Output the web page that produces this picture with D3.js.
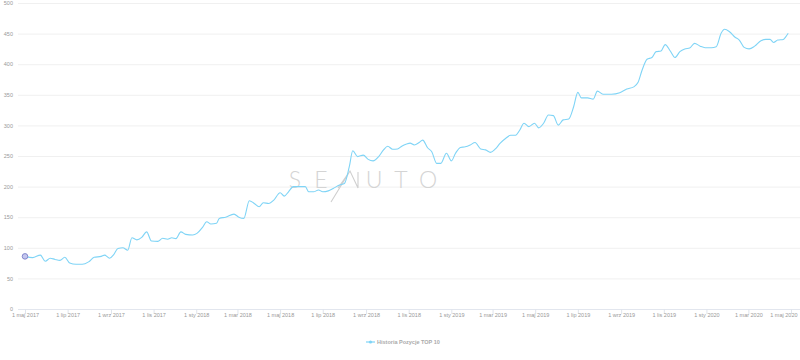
<!DOCTYPE html>
<html>
<head>
<meta charset="utf-8">
<script src="https://cdn.jsdelivr.net/npm/d3@7"></script>
<style>
  body { margin: 0; background: #fff; }
  svg { display: block; font-family: "Liberation Sans", Arial, sans-serif; }
</style>
</head>
<body>
<div id="chart"></div>
<script>
// Historia Pozycje TOP 10 - weekly snapshots
const dates = [
  "2017-05-01","2017-05-12","2017-05-23","2017-05-30","2017-06-06","2017-06-13","2017-06-20","2017-06-27",
  "2017-07-04","2017-07-13","2017-07-22","2017-07-31","2017-08-08","2017-08-18","2017-08-23","2017-08-30",
  "2017-09-05","2017-09-11","2017-09-18","2017-09-25","2017-10-01","2017-10-08","2017-10-15","2017-10-22",
  "2017-10-29","2017-11-07","2017-11-14","2017-11-21","2017-11-27","2017-12-03","2017-12-10","2017-12-17",
  "2017-12-27","2018-01-02","2018-01-10","2018-01-16","2018-01-22","2018-01-30","2018-02-03","2018-02-12",
  "2018-02-24","2018-03-03","2018-03-10","2018-03-18","2018-03-25","2018-04-01","2018-04-07","2018-04-15",
  "2018-04-22","2018-05-01","2018-05-07","2018-05-13","2018-05-20","2018-05-27","2018-06-06","2018-06-11",
  "2018-06-18","2018-06-25","2018-07-01","2018-07-09","2018-07-16","2018-07-25","2018-08-01","2018-08-08",
  "2018-08-13","2018-08-20","2018-08-28","2018-09-04","2018-09-11","2018-09-19","2018-09-26","2018-10-02",
  "2018-10-09","2018-10-16","2018-10-22","2018-10-29","2018-11-03","2018-11-09","2018-11-16","2018-11-21",
  "2018-11-28","2018-12-04","2018-12-11","2018-12-17","2018-12-25","2019-01-01","2019-01-07","2019-01-14",
  "2019-01-21","2019-01-28","2019-02-04","2019-02-12","2019-02-19","2019-02-26","2019-03-05","2019-03-12",
  "2019-03-20","2019-03-27","2019-04-03","2019-04-09","2019-04-15","2019-04-22","2019-04-30","2019-05-06",
  "2019-05-13","2019-05-20","2019-05-27","2019-06-03","2019-06-10","2019-06-18","2019-06-25","2019-07-01",
  "2019-07-06","2019-07-15","2019-07-23","2019-07-29","2019-08-06","2019-08-13","2019-08-18","2019-08-30",
  "2019-09-09","2019-09-19","2019-09-25","2019-10-01","2019-10-08","2019-10-15","2019-10-21","2019-10-28",
  "2019-11-03","2019-11-10","2019-11-17","2019-11-24","2019-12-01","2019-12-08","2019-12-15","2019-12-23",
  "2019-12-30","2020-01-08","2020-01-15","2020-01-22","2020-01-27","2020-02-03","2020-02-11","2020-02-17",
  "2020-02-24","2020-03-02","2020-03-10","2020-03-19","2020-03-26","2020-04-01","2020-04-06","2020-04-12",
  "2020-04-20","2020-04-23","2020-04-27"
];
const values = [
  86, 84, 88, 78, 83, 81, 79.5, 84.5,
  75, 73, 73, 77, 84.5, 86, 88, 83,
  89, 99, 100, 96, 116.5, 113, 117, 126,
  111, 110.5, 115.5, 114, 116.5, 115, 126, 122,
  121, 123.5, 133.5, 142.5, 139, 140, 148, 150,
  155, 150, 148, 177, 172.5, 167, 173.5, 172.5,
  178, 190, 184.5, 191.5, 200, 200, 200, 191.5,
  191.5, 194.5, 191.5, 193, 197, 202.5, 205, 232.5,
  258.5, 249, 251.5, 244.5, 242, 249, 260, 266,
  261, 261.5, 266, 269.5, 271, 268, 272, 276,
  263.5, 257, 238, 238, 254.5, 242, 254.5, 264,
  265, 268, 272, 261.5, 260, 256, 261.5, 271,
  279, 284, 284, 292.5, 303.5, 298, 303.5, 296,
  303.5, 317, 316, 300.5, 309, 310.5, 330.5, 354,
  345, 345, 343, 356, 351, 351, 351, 353.5,
  359.5, 363, 370, 390.5, 408, 411, 420.5, 421.5,
  432, 422, 411, 420.5, 425, 426.5, 434, 429.5,
  427, 427, 428.5, 450.5, 457, 453, 444, 439.5,
  427.5, 425, 429.5, 438.5, 440.5, 440.5, 435.5, 439.5,
  440.5, 444, 450.5
];
const yTicks = [0, 50, 100, 150, 200, 250, 300, 350, 400, 450, 500];
const monthNames = ["sty","lut","mar","kwi","maj","cze","lip","sie","wrz","paź","lis","gru"];
const seriesName = "Historia Pozycje TOP 10";
const xStart = "2017-05-01", xEnd = "2020-05-01";

const parse = d3.timeParse("%Y-%m-%d");
const data = dates.map((d, i) => ({ date: parse(d), value: values[i] }));

const width = 800, height = 360;
const plot = { left: 18, right: 800, top: 3, bottom: 309 };

const svg = d3.select("#chart").append("svg")
    .attr("width", width)
    .attr("height", height);

const x = d3.scaleTime()
    .domain([parse(xStart), parse(xEnd)])
    .range([25, 791]);

const y = d3.scaleLinear()
    .domain([0, 500])
    .range([plot.bottom, plot.top]);

// horizontal grid + y labels
const yAxis = g => g
    .attr("transform", `translate(${plot.left},0)`)
    .call(d3.axisLeft(y).tickValues(yTicks).tickSize(-(plot.right - plot.left)).tickPadding(5))
    .call(g => g.select(".domain").remove())
    .call(g => g.selectAll(".tick line").attr("stroke", "#ececec").attr("stroke-width", 0.8))
    .call(g => g.selectAll(".tick text")
        .attr("fill", "#999")
        .style("font-size", "5.5px"));

svg.append("g").call(yAxis);

// x axis
const fmt = d => "1 " + monthNames[d.getMonth()] + " " + d.getFullYear();
const xAxis = g => g
    .attr("transform", `translate(0,${plot.bottom})`)
    .call(d3.axisBottom(x).ticks(d3.timeMonth.every(2)).tickFormat(fmt).tickSize(5).tickSizeOuter(0).tickPadding(0))
    .call(g => g.select(".domain").attr("d", `M${plot.left},0.5H${plot.right}`).attr("stroke", "#e2e6ee"))
    .call(g => g.selectAll(".tick line").attr("stroke", "#dfe4ec"))
    .call(g => g.selectAll(".tick text")
        .attr("fill", "#999")
        .attr("dy", "0.55em")
        .style("font-size", "5.5px"))
    // keep the last label inside the chart, like the original does
    .call(g => g.selectAll(".tick").filter(d => x(d) > width - 15).select("text")
        .attr("text-anchor", "end")
        .attr("x", width - 3 - x(parse(xEnd))));

svg.append("g").call(xAxis);

// watermark
const wm = svg.append("g")
    .attr("fill", "#d4d4d4")
    .style("font-family", "Lato, 'Open Sans', sans-serif")
    .style("font-weight", 300)
    .style("font-size", "23px");
[["S", 295], ["E", 321], ["U", 374], ["T", 401], ["O", 428]].forEach(([t, cx]) => {
    wm.append("text").attr("x", cx).attr("y", 188).attr("text-anchor", "middle").text(t);
});
wm.append("path")
    .attr("d", "M331,202L350,171M338,188L350,171L358,188L358,172")
    .attr("fill", "none")
    .attr("stroke", "#cfcfcf")
    .attr("stroke-width", 1.1);

// series line
const line = d3.line()
    .x(d => x(d.date))
    .y(d => y(d.value))
    .curve(d3.curveMonotoneX);

svg.append("path")
    .datum(data)
    .attr("fill", "none")
    .attr("stroke", "#7fd4f6")
    .attr("stroke-width", 1.1)
    .attr("d", line);

// first point marker
svg.append("circle")
    .attr("cx", x(data[0].date))
    .attr("cy", y(data[0].value))
    .attr("r", 2.8)
    .attr("fill", "#c4c6ee")
    .attr("stroke", "#7b7fc8")
    .attr("stroke-width", 0.9);

// legend
const legend = svg.append("g").attr("transform", "translate(366,342)");
legend.append("line")
    .attr("x1", 0).attr("x2", 9)
    .attr("stroke", "#7fd4f6").attr("stroke-width", 1.2);
legend.append("circle")
    .attr("cx", 4.5).attr("r", 1.6)
    .attr("fill", "#7fd4f6");
legend.append("text")
    .attr("x", 11)
    .attr("dy", "0.35em")
    .attr("fill", "#aaa")
    .style("font-size", "5.5px")
    .style("font-weight", "bold")
    .text(seriesName);
</script>
</body>
</html>
